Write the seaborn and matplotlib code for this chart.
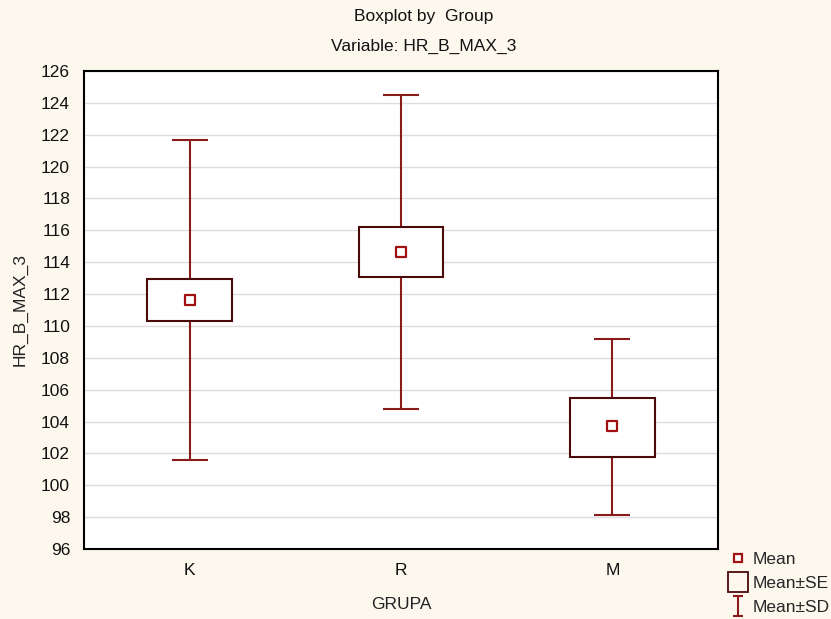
import numpy as np
import pandas as pd
import matplotlib
matplotlib.use("Agg")
import matplotlib.pyplot as plt
from matplotlib.path import Path
from matplotlib.lines import Line2D
import seaborn as sns

groups = ["K", "R", "M"]
means = [111.63, 114.64, 103.72]
se_low = [110.31, 113.07, 101.77]
se_high = [112.94, 116.21, 105.47]
sd_low = [101.58, 104.78, 98.13]
sd_high = [121.67, 124.49, 109.18]
yticks = list(range(96, 127, 2))

sns.set_theme(style="white")
plt.rcParams['font.family'] = ['Liberation Sans', 'DejaVu Sans']

bg = "#FDF8EE"
red = "#A01010"
dark = "#4A0A0A"
whisk = "#8B1A1A"
fs = 12.5

df = pd.DataFrame({"GRUPA": groups, "mean": means, "se_lo": se_low, "se_hi": se_high,
                   "sd_lo": sd_low, "sd_hi": sd_high})

fig = plt.figure(figsize=(8.31, 6.19), dpi=100, facecolor=bg)
ax = fig.add_axes([84/831, 1-549/619, (718-84)/831, (549-71)/619])
ax.set_facecolor("white")

x = np.arange(len(groups))
# whiskers (mean ± SD)
ax.vlines(x, df["sd_lo"], df["sd_hi"], color=whisk, lw=1.5, zorder=2)
ax.hlines(df["sd_lo"], x - 0.085, x + 0.085, color=whisk, lw=1.5, zorder=2)
ax.hlines(df["sd_hi"], x - 0.085, x + 0.085, color=whisk, lw=1.5, zorder=2)
# boxes (mean ± SE)
ax.bar(x, df["se_hi"] - df["se_lo"], bottom=df["se_lo"], width=0.4,
       facecolor="white", edgecolor=dark, linewidth=1.5, zorder=3)
# mean markers
sns.scatterplot(data=df, x="GRUPA", y="mean", marker="s", s=45, facecolor="white",
                edgecolor=red, linewidth=1.6, ax=ax, zorder=4, legend=False)

ax.set_xlim(-0.5, 2.5)
ax.set_ylim(96, 126)
ax.set_yticks(yticks)
ax.set_xticks(x)
ax.set_xticklabels(groups)
ax.yaxis.grid(True, color="#DDDDDD", lw=1)
ax.set_axisbelow(True)
for s in ax.spines.values():
    s.set_color("black")
    s.set_linewidth(1.5)
ax.tick_params(axis="both", direction="in", length=6, width=1.2, colors="black",
               labelsize=fs, labelcolor="#111111")
ax.tick_params(axis="y", pad=10)
ax.tick_params(axis="x", pad=10)
ax.set_xlabel("GRUPA", fontsize=fs, color="#222222", labelpad=14)
ax.set_ylabel("HR_B_MAX_3", fontsize=fs, color="#222222", labelpad=10)

fig.text(424/831, 1-17/619, "Boxplot by  Group", ha="center", va="center", fontsize=fs, color="#111111")
fig.text(424/831, 1-46/619, "Variable: HR_B_MAX_3", ha="center", va="center", fontsize=fs, color="#111111")

ibeam = Path([(-0.5, 1), (0.5, 1), (0, 1), (0, -1), (-0.5, -1), (0.5, -1)],
             [Path.MOVETO, Path.LINETO, Path.MOVETO, Path.LINETO, Path.MOVETO, Path.LINETO])
handles = [
    Line2D([], [], ls="", marker="s", markersize=6, markerfacecolor="white",
           markeredgecolor=red, markeredgewidth=1.6),
    Line2D([], [], ls="", marker="s", markersize=15, markerfacecolor="none",
           markeredgecolor=dark, markeredgewidth=1.3),
    Line2D([], [], ls="", marker=ibeam, markersize=15, markeredgecolor=whisk,
           markeredgewidth=1.5),
]
fig.legend(handles, ["Mean", "Mean±SE", "Mean±SD"], loc="upper left",
           bbox_to_anchor=(721/831, 1-545/619), frameon=False, fontsize=fs,
           handlelength=1.2, handletextpad=0.25, labelspacing=0.5, borderaxespad=0)

fig.savefig("out.png", dpi=100, facecolor=bg)
